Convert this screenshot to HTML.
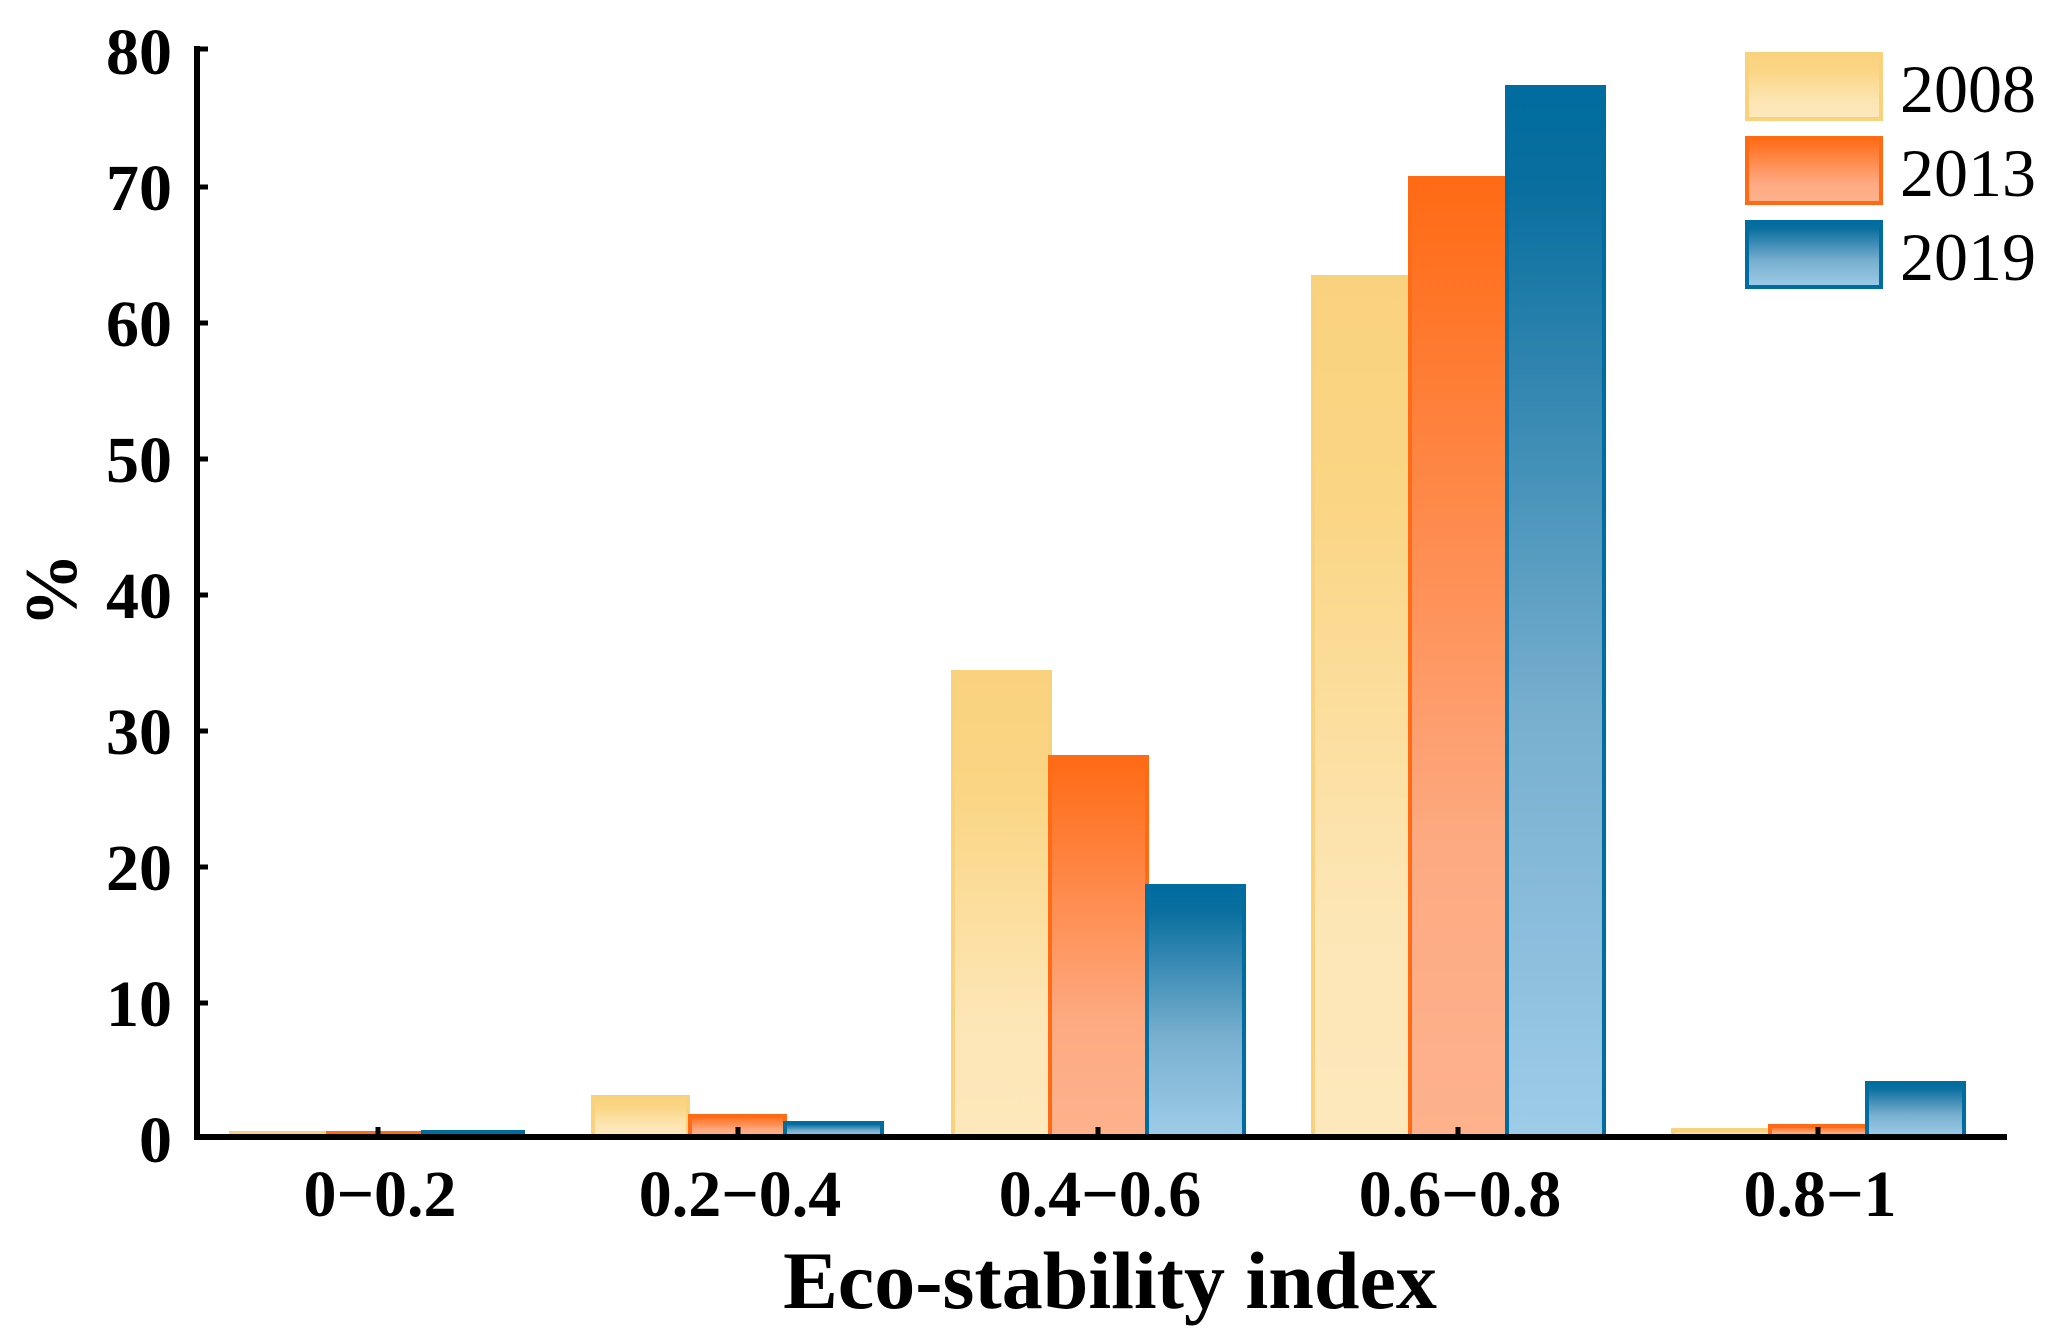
<!DOCTYPE html>
<html><head><meta charset="utf-8"><style>body{margin:0;background:#fff}svg{display:block}</style></head><body>
<svg width="2057" height="1341" viewBox="0 0 2057 1341" xmlns="http://www.w3.org/2000/svg" font-family="Liberation Serif, serif">
<defs>
<linearGradient id="g1" x1="0" y1="0" x2="0" y2="1"><stop offset="0" stop-color="#FAD27F"/><stop offset="0.25" stop-color="#FAD583"/><stop offset="0.75" stop-color="#FDE6B6"/><stop offset="1" stop-color="#FDE8BC"/></linearGradient>
<linearGradient id="g2" x1="0" y1="0" x2="0" y2="1"><stop offset="0" stop-color="#FF6A14"/><stop offset="0.7" stop-color="#FDAA82"/><stop offset="1" stop-color="#FDB28C"/></linearGradient>
<linearGradient id="g3" x1="0" y1="0" x2="0" y2="1"><stop offset="0" stop-color="#006C9F"/><stop offset="0.1" stop-color="#0A6F9F"/><stop offset="0.6" stop-color="#78AFCF"/><stop offset="1" stop-color="#9DCCE8"/></linearGradient>
</defs>
<g stroke-width="4">
<rect x="231" y="1133" width="97" height="3" fill="url(#g1)" stroke="#F9D27D"/>
<rect x="328" y="1133" width="95" height="3" fill="url(#g2)" stroke="#FF6A14"/>
<rect x="423" y="1132" width="100" height="4" fill="url(#g3)" stroke="#006C9F"/>
<rect x="593" y="1097" width="95" height="39" fill="url(#g1)" stroke="#F9D27D"/>
<rect x="690" y="1116" width="95" height="20" fill="url(#g2)" stroke="#FF6A14"/>
<rect x="785" y="1123" width="97" height="13" fill="url(#g3)" stroke="#006C9F"/>
<rect x="953" y="672" width="97" height="464" fill="url(#g1)" stroke="#F9D27D"/>
<rect x="1050" y="757" width="97" height="379" fill="url(#g2)" stroke="#FF6A14"/>
<rect x="1147" y="886" width="97" height="250" fill="url(#g3)" stroke="#006C9F"/>
<rect x="1313" y="277" width="97" height="859" fill="url(#g1)" stroke="#F9D27D"/>
<rect x="1410" y="178" width="97" height="958" fill="url(#g2)" stroke="#FF6A14"/>
<rect x="1507" y="87" width="97" height="1049" fill="url(#g3)" stroke="#006C9F"/>
<rect x="1673" y="1130" width="97" height="6" fill="url(#g1)" stroke="#F9D27D"/>
<rect x="1770" y="1126" width="97" height="10" fill="url(#g2)" stroke="#FF6A14"/>
<rect x="1867" y="1083" width="97" height="53" fill="url(#g3)" stroke="#006C9F"/>
</g>
<g stroke="#000" stroke-width="6" fill="none">
<line x1="197" y1="46" x2="197" y2="1140"/>
<line x1="194" y1="1137" x2="2007" y2="1137"/>
</g>
<g stroke="#000" stroke-width="5">
<line x1="197" y1="49" x2="208" y2="49"/><line x1="197" y1="187" x2="208" y2="187"/><line x1="197" y1="323" x2="208" y2="323"/><line x1="197" y1="459" x2="208" y2="459"/><line x1="197" y1="595" x2="208" y2="595"/><line x1="197" y1="731" x2="208" y2="731"/><line x1="197" y1="867" x2="208" y2="867"/><line x1="197" y1="1003" x2="208" y2="1003"/>
<line x1="378" y1="1127" x2="378" y2="1137"/><line x1="738" y1="1127" x2="738" y2="1137"/><line x1="1098" y1="1127" x2="1098" y2="1137"/><line x1="1458" y1="1127" x2="1458" y2="1137"/><line x1="1818" y1="1127" x2="1818" y2="1137"/>
</g>
<g font-weight="bold" font-size="66" text-anchor="end">
<text x="172" y="74">80</text><text x="172" y="210">70</text><text x="172" y="346">60</text><text x="172" y="482">50</text><text x="172" y="618">40</text><text x="172" y="754">30</text><text x="172" y="890">20</text><text x="172" y="1026">10</text><text x="172" y="1162">0</text>
</g>
<g font-weight="bold" font-size="66" text-anchor="middle">
<text x="380" y="1216">0−0.2</text><text x="740" y="1216">0.2−0.4</text><text x="1100" y="1216">0.4−0.6</text><text x="1460" y="1216">0.6−0.8</text><text x="1820" y="1216">0.8−1</text>
</g>
<text x="1110" y="1308" font-weight="bold" font-size="82" text-anchor="middle">Eco-stability index</text>
<text transform="translate(76,590) rotate(-90)" font-weight="bold" font-size="74" text-anchor="middle">%</text>
<g stroke-width="4">
<rect x="1747" y="54" width="134" height="65" fill="url(#g1)" stroke="#F9D27D"/>
<rect x="1747" y="138" width="134" height="65" fill="url(#g2)" stroke="#FF6A14"/>
<rect x="1747" y="222" width="134" height="65" fill="url(#g3)" stroke="#006C9F"/>
</g>
<g font-size="68">
<text x="1900" y="112">2008</text><text x="1900" y="196">2013</text><text x="1900" y="280">2019</text>
</g>
</svg>
</body></html>
